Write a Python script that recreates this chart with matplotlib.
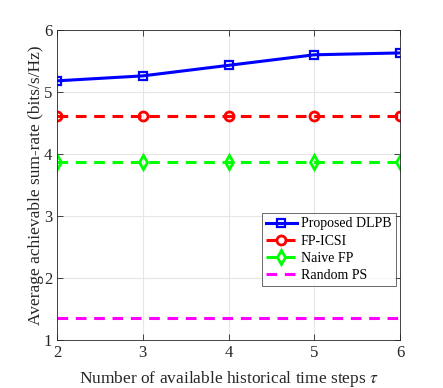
import matplotlib
matplotlib.use("Agg")
import matplotlib.pyplot as plt

plt.rcParams['font.family'] = ['Liberation Serif', 'DejaVu Serif']
plt.rcParams['mathtext.fontset'] = 'stix'

steps = [2, 3, 4, 5, 6]
dlpb = [5.18, 5.26, 5.43, 5.60, 5.63]
fp_icsi = [4.62, 4.62, 4.62, 4.62, 4.62]
naive_fp = [3.87, 3.87, 3.87, 3.87, 3.87]
random_ps = [1.35, 1.35, 1.35, 1.35, 1.35]

fig = plt.figure(figsize=(4.43, 3.88), dpi=100)
ax = fig.add_axes([0.1287, 0.1237, 0.7743, 0.799])

ax.plot(steps, dlpb, color='#0000ff', lw=2.2, marker='s', ms=5.5, mfc='none', mew=1.6, label='Proposed DLPB')
ax.plot(steps, fp_icsi, color='#ff0000', lw=2.2, ls=(0, (3.5, 2.5)), marker='o', ms=6.5, mfc='none', mew=2, label='FP-ICSI')
ax.plot(steps, naive_fp, color='#00ff00', lw=2.2, ls=(0, (3.5, 2.5)), marker='d', ms=7.5, mfc='none', mew=2, label='Naive FP')
ax.plot(steps, random_ps, color='#ff00ff', lw=2.2, ls=(0, (3.5, 2.5)), label='Random PS')

ax.set_xlim(2, 6)
ax.set_ylim(1, 6)
ax.set_xticks([2, 3, 4, 5, 6])
ax.set_yticks([1, 2, 3, 4, 5, 6])
ax.grid(True, color='#e6e6e6', lw=0.8)
ax.set_axisbelow(True)
for s in ax.spines.values():
    s.set_color('#262626')
    s.set_linewidth(0.6)
ax.tick_params(direction='in', length=4, width=0.6, colors='#262626', labelsize=12, top=True, right=True)
for lbl in ax.get_xticklabels() + ax.get_yticklabels():
    lbl.set_color('#262626')

ax.set_xlabel(r'Number of available historical time steps $\tau$', fontsize=12.5, color='#262626', labelpad=6)
ax.set_ylabel('Average achievable sum-rate (bits/s/Hz)', fontsize=12.5, color='#262626', labelpad=0)

leg = ax.legend(loc='lower right', bbox_to_anchor=(0.995, 0.165), fontsize=10, frameon=True, fancybox=False,
                edgecolor='#262626', handlelength=2.2, borderpad=0.3, labelspacing=0.3, handletextpad=0.3,
                borderaxespad=0.2)
leg.get_frame().set_linewidth(0.6)

fig.savefig('out.png', dpi=100)
